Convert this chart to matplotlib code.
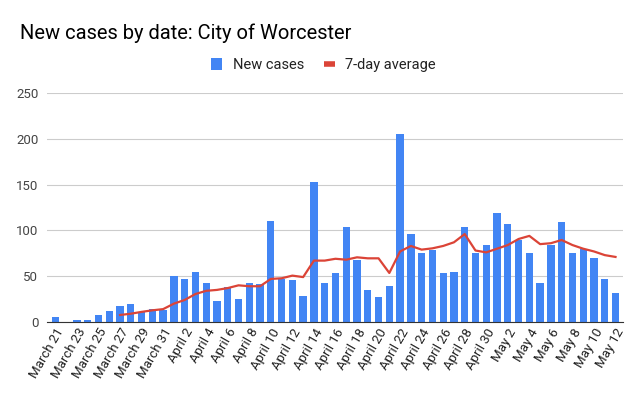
import matplotlib.pyplot as plt
import numpy as np
from matplotlib.lines import Line2D

plt.rcParams['font.family'] = ['Roboto', 'DejaVu Sans']

# Daily counts, March 21 - May 12
dates = (["March %d" % d for d in range(21, 32)]
         + ["April %d" % d for d in range(1, 31)]
         + ["May %d" % d for d in range(1, 13)])

new_cases = [5, 0, 2, 2, 8, 12, 17, 20, 11, 14, 13,
             50, 47, 55, 43, 23, 38, 25, 42, 41, 110,
             47, 46, 28, 153, 42, 53, 104, 68, 35, 27,
             39, 205, 96, 75, 79, 53, 55, 104, 75, 84,
             119, 107, 89, 75, 42, 84, 109, 75, 80, 70,
             47, 32]

# 7-day average starts on March 27
avg_7day = [None] * 6 + [7.6, 9, 11, 12.7, 14,
            20, 24, 30.5, 34, 35, 37, 40, 39, 39, 47,
            47.7, 50.6, 49, 67, 67, 69, 68, 70.6, 69.5, 69.5,
            53.5, 77, 83, 79, 80.4, 83, 87, 96, 78, 76,
            80, 84, 90.6, 94, 85, 86, 89.5, 84, 80, 77,
            73, 71]

yticks = [0, 50, 100, 150, 200, 250]

x = np.arange(len(dates))
avg = np.array([np.nan if v is None else v for v in avg_7day])

fig, ax = plt.subplots(figsize=(6.41, 3.96), dpi=100)
fig.subplots_adjust(left=0.073, right=0.972, top=0.765, bottom=0.187)

bars = ax.bar(x, new_cases, width=0.68, color='#4285F4', label='New cases', zorder=2)
ax.plot(x, avg, color='#DB4437', linewidth=1.6, label='7-day average', zorder=3)

ax.set_ylim(0, 250)
ax.set_yticks(yticks)
ax.set_xlim(-0.8, len(dates) - 0.3)
ax.set_xticks(x[::2])
ax.set_xticklabels(dates[::2], rotation=60, ha='right', rotation_mode='anchor',
                   fontsize=9.5, color='#222222')
ax.tick_params(axis='y', labelsize=9.5, labelcolor='#444444', length=0, pad=6)
ax.tick_params(axis='x', length=0, pad=3)
ax.grid(axis='y', color='#cccccc', linewidth=0.8, zorder=0)
for s in ['top', 'right', 'left']:
    ax.spines[s].set_visible(False)
ax.spines['bottom'].set_color('#333333')

fig.text(0.031, 0.915, 'New cases by date: City of Worcester', fontsize=14.5,
         color='#000000', va='center')

line_handle = Line2D([], [], color='#DB4437', linewidth=4, solid_capstyle='butt')
fig.legend([bars, line_handle], ['New cases', '7-day average'],
           loc='center', bbox_to_anchor=(0.505, 0.835), ncol=2, frameon=False,
           fontsize=10.5, handlelength=0.75, handleheight=0.9, columnspacing=1.4,
           handletextpad=0.7, labelcolor='#222222')

plt.savefig('out.png')
